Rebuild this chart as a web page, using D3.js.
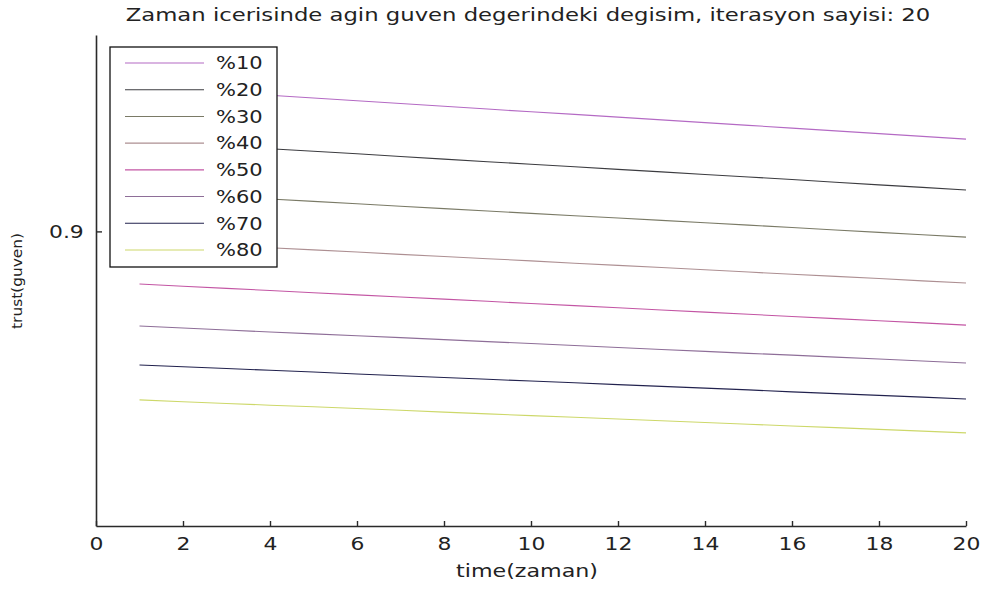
<!DOCTYPE html>
<html>
<head>
<meta charset="utf-8">
<script src="https://cdnjs.cloudflare.com/ajax/libs/d3/7.8.5/d3.min.js"></script>
<style>
  html, body { margin: 0; padding: 0; background: #fff; }
  svg { display: block; }
  text { font-family: "DejaVu Sans", sans-serif; fill: #222; }
</style>
</head>
<body>
<svg id="chart" width="986" height="590"></svg>
<script>
// Trust value per iteration for each malicious-node ratio
const steps = d3.range(1, 21);
const seriesNames = ["%10", "%20", "%30", "%40", "%50", "%60", "%70", "%80"];
const seriesColors = ["#b46ac4", "#3c3c40", "#7a7a66", "#ad8f92", "#c356a4", "#8e6e98", "#22224e", "#cdd86a"];

const trust10 = [0.9735, 0.9721, 0.9707, 0.9693, 0.9679, 0.9665, 0.9651, 0.9637, 0.9623, 0.9609,
                 0.9596, 0.9582, 0.9568, 0.9554, 0.9540, 0.9526, 0.9512, 0.9498, 0.9484, 0.9470];
const trust20 = [0.9460, 0.9447, 0.9434, 0.9421, 0.9408, 0.9395, 0.9381, 0.9368, 0.9355, 0.9342,
                 0.9329, 0.9316, 0.9303, 0.9290, 0.9277, 0.9264, 0.9250, 0.9237, 0.9224, 0.9211];
const trust30 = [0.9201, 0.9189, 0.9177, 0.9165, 0.9153, 0.9141, 0.9128, 0.9116, 0.9104, 0.9092,
                 0.9080, 0.9068, 0.9056, 0.9044, 0.9032, 0.9020, 0.9007, 0.8995, 0.8983, 0.8971];
const trust40 = [0.8951, 0.8940, 0.8928, 0.8917, 0.8906, 0.8895, 0.8883, 0.8872, 0.8861, 0.8850,
                 0.8838, 0.8827, 0.8816, 0.8805, 0.8793, 0.8782, 0.8771, 0.8760, 0.8748, 0.8737];
const trust50 = [0.8732, 0.8721, 0.8710, 0.8699, 0.8688, 0.8677, 0.8666, 0.8655, 0.8644, 0.8633,
                 0.8622, 0.8611, 0.8600, 0.8589, 0.8578, 0.8567, 0.8556, 0.8545, 0.8534, 0.8523];
const trust60 = [0.8518, 0.8508, 0.8498, 0.8488, 0.8478, 0.8469, 0.8459, 0.8449, 0.8439, 0.8429,
                 0.8419, 0.8409, 0.8399, 0.8389, 0.8379, 0.8370, 0.8360, 0.8350, 0.8340, 0.8330];
const trust70 = [0.8320, 0.8311, 0.8302, 0.8293, 0.8284, 0.8274, 0.8265, 0.8256, 0.8247, 0.8238,
                 0.8229, 0.8220, 0.8211, 0.8202, 0.8193, 0.8183, 0.8174, 0.8165, 0.8156, 0.8147];
const trust80 = [0.8142, 0.8133, 0.8124, 0.8115, 0.8107, 0.8098, 0.8089, 0.8080, 0.8071, 0.8062,
                 0.8054, 0.8045, 0.8036, 0.8027, 0.8018, 0.8009, 0.8001, 0.7992, 0.7983, 0.7974];

const seriesValues = [trust10, trust20, trust30, trust40, trust50, trust60, trust70, trust80];

const xTicks = [0, 2, 4, 6, 8, 10, 12, 14, 16, 18, 20];
const yTicks = [0.9];

const titleText = "Zaman icerisinde agin guven degerindeki degisim, iterasyon sayisi: 20";
const xLabel = "time(zaman)";
const yLabel = "trust(guven)";

// Layout
const margin = { left: 96, right: 20, top: 35, bottom: 64 };
const W = 986, H = 590;
const innerW = W - margin.left - margin.right;
const innerH = H - margin.top - margin.bottom;

const svg = d3.select("#chart");
const g = svg.append("g").attr("transform", `translate(${margin.left},${margin.top})`);

const x = d3.scaleLinear().domain([0, 20]).range([0, innerW]);
const y = d3.scaleLinear().domain([0.75, 1.0]).range([innerH, 0]);

// Widen a text horizontally so it spans a given width
function stretchTo(sel, prefix, width) {
  const natural = sel.node().getComputedTextLength();
  sel.attr("transform", `${prefix} scale(${width / natural},1)`);
}

// Series lines
const line = d3.line()
  .x((d, i) => x(steps[i]))
  .y(d => y(d));

g.selectAll("path.series")
  .data(seriesValues)
  .join("path")
  .attr("class", "series")
  .attr("fill", "none")
  .attr("stroke", (d, i) => seriesColors[i])
  .attr("stroke-width", 1.1)
  .attr("d", line);

// Axes with inward ticks
const xAxis = d3.axisBottom(x).tickValues(xTicks).tickSizeInner(-5).tickSizeOuter(0).tickPadding(12);
const yAxis = d3.axisLeft(y).tickValues(yTicks).tickFormat(d3.format(".1f")).tickSizeInner(-6).tickSizeOuter(0).tickPadding(11);

const gx = g.append("g").attr("transform", `translate(0,${innerH})`).call(xAxis);
const gy = g.append("g").call(yAxis);

[gx, gy].forEach(a => {
  a.select(".domain").attr("stroke", "#2a2a2a").attr("stroke-width", 1.6);
  a.selectAll(".tick line").attr("stroke", "#2a2a2a").attr("stroke-width", 1.4);
  a.selectAll(".tick text").style("font-size", "17.5px").attr("fill", "#2a2a2a")
    .style("font-family", "'DejaVu Sans', sans-serif")
    .attr("transform", "scale(1.25,1)");
});
gx.selectAll(".tick text").attr("dy", "0.68em");
gy.selectAll(".tick text").attr("x", -11 / 1.25 - 1);

// Title and axis labels
const title = svg.append("text")
  .attr("text-anchor", "middle")
  .style("font-size", "17px")
  .text(titleText);
stretchTo(title, "translate(528,21)", 805);

const xl = svg.append("text")
  .attr("text-anchor", "middle")
  .style("font-size", "17px")
  .text(xLabel);
stretchTo(xl, "translate(527,577)", 142);

const yl = svg.append("text")
  .attr("text-anchor", "middle")
  .style("font-size", "14px")
  .text(yLabel);
stretchTo(yl, "translate(22,281) rotate(-90)", 96);

// Legend
const legend = svg.append("g").attr("transform", "translate(110,47)");
legend.append("rect")
  .attr("width", 167).attr("height", 220)
  .attr("fill", "#fff").attr("stroke", "#111").attr("stroke-width", 1.3);

const rowY = d3.scaleLinear().domain([0, seriesNames.length - 1]).range([16, 203]);
const rows = legend.selectAll("g.row").data(seriesNames).join("g")
  .attr("class", "row")
  .attr("transform", (d, i) => `translate(0,${rowY(i)})`);
rows.append("line")
  .attr("x1", 15).attr("x2", 94)
  .attr("stroke", (d, i) => seriesColors[i]).attr("stroke-width", 1.1);
rows.append("text")
  .attr("dy", "0.36em")
  .style("font-size", "17.5px")
  .attr("transform", "translate(106,0) scale(1.2,1)")
  .text(d => d);
</script>
</body>
</html>
